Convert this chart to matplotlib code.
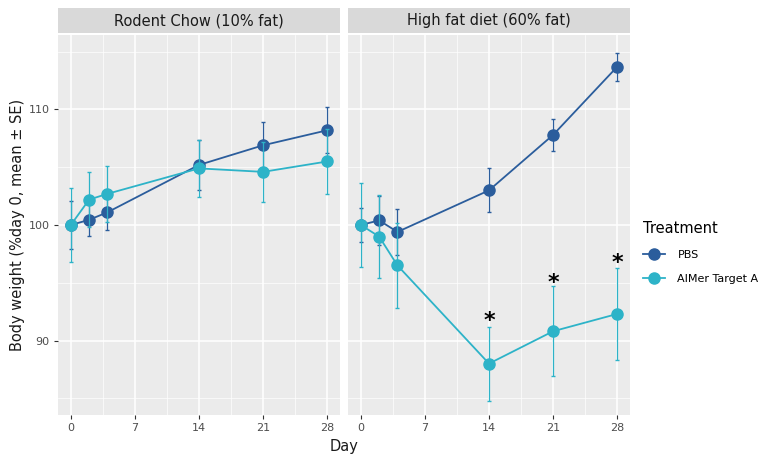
import matplotlib
matplotlib.use("Agg")
from matplotlib import pyplot as plt
from matplotlib.lines import Line2D
import numpy as np

days = [0, 2, 4, 14, 21, 28]
panels = ["Rodent Chow (10% fat)", "High fat diet (60% fat)"]

# left panel (chow)
chow_pbs = [100.0, 100.45, 101.1, 105.2, 106.9, 108.2]
chow_pbs_se = [2.1, 1.4, 1.55, 2.2, 2.0, 2.0]
chow_aimer = [100.0, 102.2, 102.7, 104.9, 104.6, 105.5]
chow_aimer_se = [3.2, 2.4, 2.4, 2.5, 2.6, 2.8]

# right panel (HFD)
hfd_pbs = [100.0, 100.4, 99.4, 103.0, 107.8, 113.7]
hfd_pbs_se = [1.5, 2.1, 2.0, 1.9, 1.4, 1.2]
hfd_aimer = [100.0, 99.0, 96.5, 88.0, 90.8, 92.3]
hfd_aimer_se = [3.6, 3.6, 3.7, 3.2, 3.9, 4.0]

star_days = [14, 21, 28]
star_y = [92.2, 95.5, 97.2]

pbs_col = "#2b5d9c"
aimer_col = "#2db3c8"
grey_txt = "#4d4d4d"

fig = plt.figure(figsize=(7.81, 4.58), dpi=100)

lefts = [58 / 781, 348 / 781]
w = 282 / 781
bottom = 43 / 458
h = 380 / 458

data = [(chow_pbs, chow_pbs_se, chow_aimer, chow_aimer_se),
        (hfd_pbs, hfd_pbs_se, hfd_aimer, hfd_aimer_se)]

for i, (left, title) in enumerate(zip(lefts, panels)):
    ax = fig.add_axes([left, bottom, w, h])
    ax.set_facecolor("#ebebeb")
    for s in ax.spines.values():
        s.set_visible(False)
    ax.set_xlim(-1.4, 29.4)
    ax.set_ylim(83.55, 116.45)
    ax.set_xticks([0, 7, 14, 21, 28])
    ax.set_xticks([3.5, 10.5, 17.5, 24.5], minor=True)
    ax.set_yticks([90, 100, 110])
    ax.set_yticks([85, 95, 105, 115], minor=True)
    ax.grid(which="major", color="white", lw=1.1)
    ax.grid(which="minor", color="white", lw=0.5)
    ax.set_axisbelow(True)
    ax.tick_params(which="major", length=3, color="#333333", labelsize=8,
                   labelcolor=grey_txt, pad=3)
    ax.tick_params(which="minor", length=0)
    if i == 1:
        ax.set_yticklabels([])
        ax.tick_params(axis="y", length=0)

    pbs, pbs_se, aim, aim_se = data[i]
    ax.errorbar(days, pbs, yerr=pbs_se, color=pbs_col, marker="o", ms=8,
                lw=1.3, elinewidth=0.9, capsize=1.2, zorder=3)
    ax.errorbar(days, aim, yerr=aim_se, color=aimer_col, marker="o", ms=8,
                lw=1.3, elinewidth=0.9, capsize=1.2, zorder=4)
    if i == 1:
        for d, y in zip(star_days, star_y):
            ax.text(d, y - 0.5, "*", ha="center", va="center", fontsize=16,
                    fontweight="bold", color="black")

    sax = fig.add_axes([left, 425 / 458, w, 25 / 458])
    sax.set_facecolor("#d9d9d9")
    sax.set_xticks([])
    sax.set_yticks([])
    for s in sax.spines.values():
        s.set_visible(False)
    sax.text(0.5, 0.5, title, ha="center", va="center", fontsize=10.5,
             color="#1a1a1a", transform=sax.transAxes)

fig.text(344 / 781, 11 / 458, "Day", ha="center", va="center", fontsize=10.5,
         color="#1a1a1a")
fig.text(18 / 781, 233 / 458, "Body weight (%day 0, mean \u00b1 SE)",
         rotation=90, ha="center", va="center", fontsize=10.5, color="#1a1a1a")

handles = [Line2D([0], [0], color=pbs_col, marker="o", ms=8, lw=1.3),
           Line2D([0], [0], color=aimer_col, marker="o", ms=8, lw=1.3)]
leg = fig.legend(handles, ["PBS", "AIMer Target A"], title="Treatment",
                 loc="upper left", bbox_to_anchor=(633 / 781, 247 / 458),
                 frameon=False, fontsize=8, title_fontsize=10.5,
                 handlelength=2.0, handletextpad=1.1, labelspacing=1.25)
leg._legend_box.align = "left"

fig.savefig("out.png", dpi=100)
